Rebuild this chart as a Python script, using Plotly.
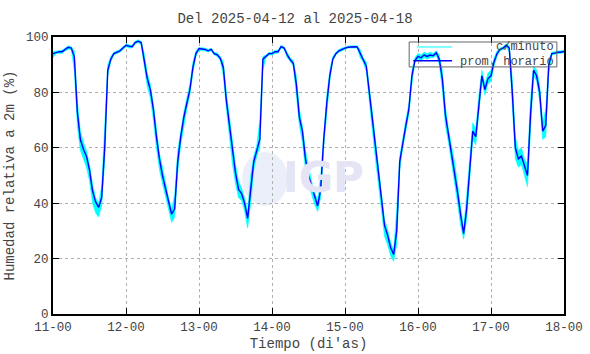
import plotly.graph_objects as go
import pandas as pd

# ---- data ----
start = "2025-04-11 00:00"
prom_horario = [
    94, 94.5, 94.7, 94.7, 95.5, 96.3, 96, 93, 73, 63, 59.5, 57, 52, 44.5, 40.5, 38.5, 42, 60, 88, 92, 94, 94.5, 95, 96,
    97, 96.7, 96.5, 98, 98.5, 98, 92, 85, 81, 74, 64, 56, 50, 45, 40, 36, 38, 55, 64, 71, 76, 81, 89, 94,
    95.8, 95.6, 95.5, 95, 95.5, 94, 93.6, 92.3, 89, 77, 68, 58, 51, 45, 43.5, 40, 34.5, 45, 55, 59, 63, 92, 93, 94,
    94, 94.7, 94.7, 96.5, 96, 93.5, 91.8, 90.5, 83, 71, 66, 56, 50, 46, 42, 39, 45, 63, 76, 86, 92, 94, 95, 95.6,
    96, 96.3, 96.5, 96.5, 96.4, 94, 91.8, 89.5, 80, 70, 60, 50.5, 41, 32, 28.5, 24, 21.5, 30, 55, 62, 68, 74, 86, 91.5,
    93, 92.5, 93.5, 93, 93.5, 93.2, 94.3, 92, 85, 72, 65, 58, 52, 44, 36, 29, 38, 52, 66, 64, 76, 86, 81, 85,
    86, 91, 94, 95.5, 96, 97, 96, 80, 60, 56, 57, 53, 50, 72, 88, 86, 80, 66, 68, 90, 94, 94.2, 94.5, 94.5, 94.8,
]
# per-hour range (min / max) of the one-minute data
minuto_min = [
    92.5, 94, 94, 94, 95, 95.5, 95.5, 88, 68, 59, 56, 53, 48, 40, 36.5, 35, 39, 55, 86, 91, 93.5, 94, 94.5, 95.5,
    96.5, 96, 96, 97.5, 98, 97, 89, 82, 78, 70, 60, 52, 47, 42, 37, 33, 35, 51, 61, 68, 74, 79, 87, 93,
    95.2, 95, 95, 94.5, 95, 93.5, 93, 91.5, 86, 74, 64, 54, 47, 42, 41, 37, 31, 40, 52, 57, 60, 88, 92.5, 93.5,
    93.5, 94, 94.2, 96, 95.5, 92.5, 91.2, 89.5, 79, 68, 62, 52, 47, 43, 39.5, 37, 42, 60, 73, 84, 91.5, 93.5, 94.5, 95,
    95.5, 96, 96, 96, 96, 92.5, 91, 87.5, 76, 66, 56, 46, 36, 28, 25, 21, 19, 25, 52, 60, 66, 72, 83, 91,
    92, 91.5, 92.5, 92, 92.5, 92.5, 93.5, 90, 81, 68, 62, 55, 48, 40, 32, 27, 34, 48, 63, 61, 73, 84, 79, 83,
    84, 89.5, 93, 95, 95.5, 96.5, 94.5, 74, 56, 53, 54, 50, 46, 66, 86, 84, 77, 63, 64, 87, 93.5, 93.8, 94, 94, 94.3,
]
minuto_max = [
    94.8, 95, 95.2, 95.2, 96, 96.8, 96.5, 95, 77, 66, 62, 59, 54, 47, 42, 40, 46, 68, 90, 93, 94.5, 95, 95.5, 96.5,
    97.5, 97.2, 97, 98.5, 99, 98.5, 94, 87, 83, 76, 66, 58, 53, 47, 42, 38, 43, 59, 66, 73, 78, 83, 91, 95,
    96.2, 96, 96, 95.5, 96, 94.5, 94.2, 93, 91, 80, 71, 61, 54, 48, 45.5, 42, 37, 50, 57, 61, 70, 93, 93.5, 94.5,
    94.5, 95.2, 95.2, 97, 96.5, 94.5, 92.5, 91.5, 86, 74, 68, 59, 53, 48, 44, 41, 50, 66, 79, 88, 93, 94.5, 95.5, 96,
    96.4, 96.7, 96.8, 96.8, 96.8, 95.5, 92.5, 91, 83, 73, 63, 54, 44, 34, 30.5, 26, 23, 38, 57, 64, 70, 76, 88, 92.5,
    94, 93.5, 94.5, 94, 94.5, 94, 95, 93.5, 88, 75, 67, 61, 55, 47, 39, 31, 43, 56, 69, 67, 79, 88, 83, 87,
    88, 92.5, 95, 96, 96.5, 97.5, 96.8, 85, 64, 59, 60, 56, 54, 78, 89.5, 88, 83, 69, 74, 92, 94.5, 94.8, 95, 95, 95.2,
]
tiempo = pd.date_range(start, periods=len(prom_horario), freq="h")
y_ticks = [0, 20, 40, 60, 80, 100]

FONT = "Liberation Mono, Courier New, monospace"
TXT = "#444444"

fig = go.Figure()
fig.add_trace(go.Scatter(x=tiempo, y=minuto_min, mode="lines",
                         line=dict(color="#00ffff", width=0.6), showlegend=False, hoverinfo="skip"))
fig.add_trace(go.Scatter(x=tiempo, y=minuto_max, mode="lines", fill="tonexty",
                         fillcolor="#00ffff", line=dict(color="#00ffff", width=0.6),
                         name="c/minuto", showlegend=False))
fig.add_trace(go.Scatter(x=tiempo, y=prom_horario, mode="lines",
                         line=dict(color="#0000ff", width=1.4), name="prom. horario", showlegend=False))

axis_common = dict(showline=True, linecolor="black", linewidth=2, mirror="ticks",
                   ticks="inside", ticklen=6, tickcolor="black", tickwidth=1,
                   showgrid=True, gridcolor="#b0b0b0", griddash="dot", gridwidth=1,
                   zeroline=False, automargin=False,
                   tickfont=dict(family=FONT, size=12.5, color=TXT))

fig.update_xaxes(**axis_common, type="date",
                 range=["2025-04-11 00:00", "2025-04-18 00:00"],
                 dtick=86400000, tick0="2025-04-11", tickformat="%d-%H",
                 title=dict(text="Tiempo (di'as)", font=dict(family=FONT, size=14, color=TXT), standoff=4))
fig.update_yaxes(**axis_common, range=[0, 100], tickvals=y_ticks,
                 title=dict(text="Humedad relativa a 2m (%)", font=dict(family=FONT, size=14, color=TXT), standoff=8))

# watermark
fig.add_shape(type="circle", xref="paper", yref="paper", x0=0.370, x1=0.460, y0=0.390, y1=0.585,
              fillcolor="#eaeffa", line=dict(width=0), layer="below")
fig.add_annotation(text="<b>IGP</b>", xref="paper", yref="paper", x=0.530, y=0.491, showarrow=False,
                   font=dict(family="DejaVu Sans", size=42, color="#e4e4f5"))

# legend (gnuplot style key)
fig.add_shape(type="rect", xref="paper", yref="paper", x0=0.697, x1=0.986, y0=0.892, y1=0.982,
              line=dict(color="#666666", width=1))
fig.add_shape(type="line", xref="paper", yref="paper", x0=0.712, x1=0.781, y0=0.964, y1=0.964,
              line=dict(color="#00ffff", width=1))
fig.add_shape(type="line", xref="paper", yref="paper", x0=0.705, x1=0.781, y0=0.914, y1=0.914,
              line=dict(color="#0000ff", width=1.4))
fig.add_annotation(text="c/minuto", xref="paper", yref="paper", x=0.984, y=0.964, xanchor="right",
                   yanchor="middle", showarrow=False, font=dict(family=FONT, size=12, color=TXT))
fig.add_annotation(text="prom. horario", xref="paper", yref="paper", x=0.984, y=0.910, xanchor="right",
                   yanchor="middle", showarrow=False, font=dict(family=FONT, size=12, color=TXT))

fig.update_layout(width=590, height=354, margin=dict(l=53, r=26, t=37, b=40),
                  paper_bgcolor="white", plot_bgcolor="white",
                  title=dict(text="Del 2025-04-12 al 2025-04-18", x=0.5, xanchor="center",
                             y=0.949, yanchor="middle", font=dict(family=FONT, size=14, color=TXT)),
                  showlegend=False)

fig.write_html("out.html")
